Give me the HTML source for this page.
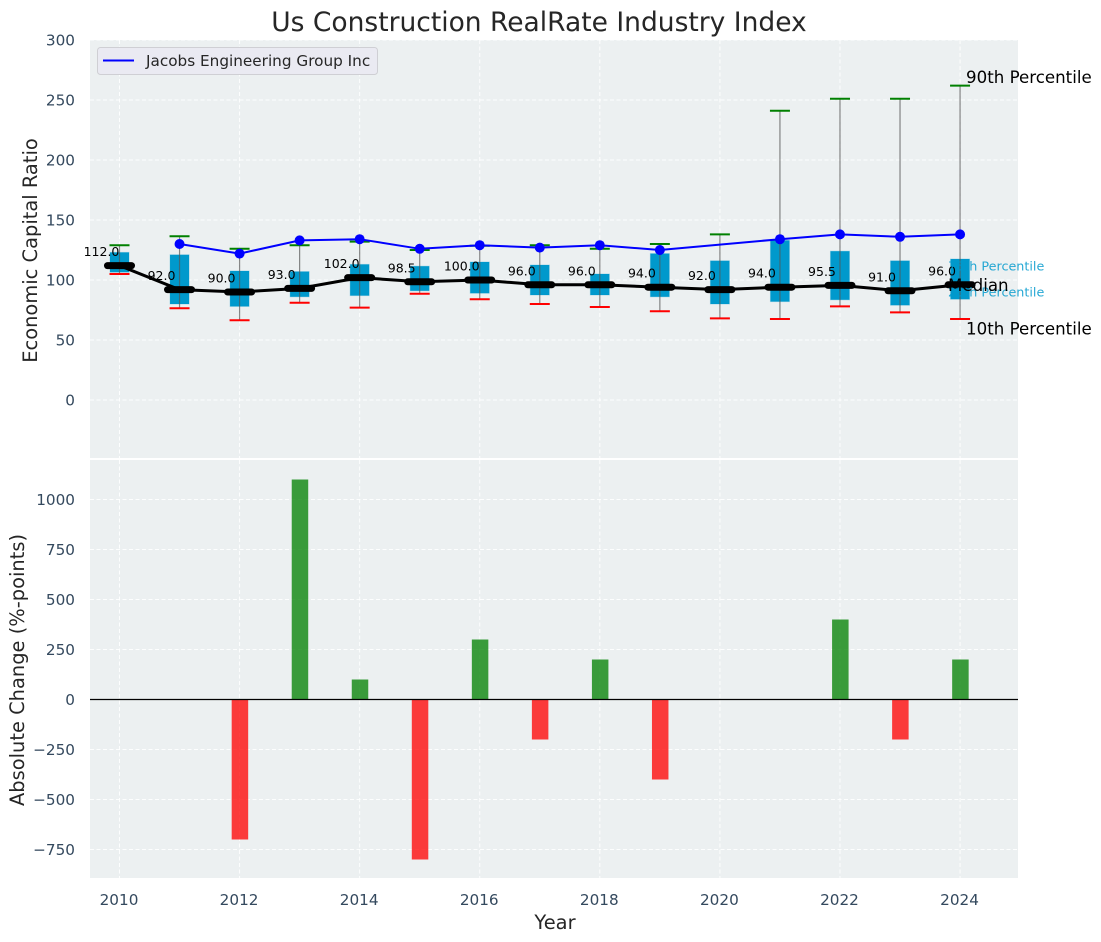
<!DOCTYPE html>
<html>
<head>
<meta charset="utf-8">
<title>Us Construction RealRate Industry Index</title>
<style>
html,body{margin:0;padding:0;background:#fff;}
svg{display:block;font-family:"DejaVu Sans","Liberation Sans",sans-serif;}
</style>
</head>
<body>
<svg id="chart" xmlns="http://www.w3.org/2000/svg" width="1101" height="942" viewBox="0 0 1101 942">
  <rect x="90" y="40" width="928" height="418" fill="#ecf0f1"/>
  <rect x="90" y="460" width="928" height="418" fill="#ecf0f1"/>
  <g id="grid"></g>
  <g id="ticks"></g>
  <g id="marks"></g>
  <g id="bars"></g>
  <text x="539" y="31" font-size="26.5px" fill="#262626" text-anchor="middle">Us Construction RealRate Industry Index</text>
  <text transform="translate(37,250.5) rotate(-90)" font-size="19.45px" fill="#262626" text-anchor="middle">Economic Capital Ratio</text>
  <text transform="translate(24,670) rotate(-90)" font-size="19.45px" fill="#262626" text-anchor="middle">Absolute Change (%-points)</text>
  <text x="555" y="929" font-size="19.45px" fill="#262626" text-anchor="middle">Year</text>
  <g>
    <rect x="97.5" y="47.5" width="280" height="27" rx="3" fill="#eaeaf2" stroke="#cfcfd4"/>
    <line x1="103" x2="134" y1="60.5" y2="60.5" stroke="#0000ff" stroke-width="2"/>
    <text x="146" y="66" font-size="15.25px" fill="#262626">Jacobs Engineering Group Inc</text>
  </g>
  <g id="annotations"></g>
</svg>
<script>
const years = [2010,2011,2012,2013,2014,2015,2016,2017,2018,2019,2020,2021,2022,2023,2024];
const median = [112,92,90,93,102,98.5,100,96,96,94,92,94,95.5,91,96];
const q1 = [106.5,80,78,86,87,91,89,87.5,87.5,86,80,82,83.5,79,84];
const q3 = [123,121,107.5,107,113,111.5,115,112.5,105,122,116,133,124,116,117.5];
const p10 = [105,76.5,66.5,81,77,88.5,84,80,77.5,74,68,67.5,78,73,67.5];
const p90 = [129,136.5,126,129,132,125,128.5,129,126,130,138,241,251,251,262];
const jacobs = [null,130,122,133,134,126,129,127,129,125,null,134,138,136,138];
const change = [0,0,-700,1100,100,-800,300,-200,200,-400,0,0,400,-200,200];
const topTicks = [0,50,100,150,200,250,300];
const bottomTicks = [-750,-500,-250,0,250,500,750,1000];
const xTicks = [2010,2012,2014,2016,2018,2020,2022,2024];

const NS = 'http://www.w3.org/2000/svg';
const xScale = v => 119.5 + (v - 2010) * 60.04;
const yTop = v => 400 - v * 1.2;
const yBottom = v => 699.5 - v * 0.2;
function make(tag, parent, attrs, text) {
  const el = document.createElementNS(NS, tag);
  for (const k in attrs) el.setAttribute(k, attrs[k]);
  if (text !== undefined) el.textContent = text;
  parent.appendChild(el);
  return el;
}
const grid = document.getElementById('grid');
const ticks = document.getElementById('ticks');
const marks = document.getElementById('marks');
const bars = document.getElementById('bars');
const annotations = document.getElementById('annotations');
const gridStyle = {stroke:'#ffffff','stroke-width':1,'stroke-dasharray':'4 2.5','stroke-opacity':0.9};
const tickColor = '#34495e';
const fmtTick = v => v < 0 ? '\u2212' + Math.abs(v) : String(v);

topTicks.forEach(t => {
  const g = make('line', grid, Object.assign({x1:90,x2:1018,y1:yTop(t),y2:yTop(t)}, gridStyle));
  
  
  const l = make('text', ticks, {x:75,y:yTop(t)+5.5,'font-size':'15.25px',fill:tickColor,'text-anchor':'end'}, fmtTick(t));
  
  
});
bottomTicks.forEach(t => {
  const g = make('line', grid, Object.assign({x1:90,x2:1018,y1:yBottom(t),y2:yBottom(t)}, gridStyle));
  
  
  const l = make('text', ticks, {x:75,y:yBottom(t)+5.5,'font-size':'15.25px',fill:tickColor,'text-anchor':'end'}, fmtTick(t));
  
  
});
xTicks.forEach(t => {
  const a = make('line', grid, Object.assign({x1:xScale(t),x2:xScale(t),y1:40,y2:458}, gridStyle));
  
  
  const b = make('line', grid, Object.assign({x1:xScale(t),x2:xScale(t),y1:460,y2:878}, gridStyle));
  
  
  const l = make('text', ticks, {x:xScale(t)-0.5,y:905,'font-size':'15.25px',fill:tickColor,'text-anchor':'middle'}, String(t));
  
  
});

years.forEach((yr, i) => {
  const x = xScale(yr);
  const box = make('rect', marks, {x:x-9.5,y:yTop(q3[i]),width:19,height:yTop(q1[i])-yTop(q3[i]),fill:'#0099cc',stroke:'#0099cc','stroke-opacity':0.25,'stroke-width':1});
  
  
  const w = make('line', marks, {x1:x,x2:x,y1:yTop(p90[i]),y2:yTop(p10[i]),stroke:'#555555','stroke-opacity':0.7,'stroke-width':1.2});
  
  
  const capHi = make('line', marks, {x1:x-10,x2:x+10,y1:yTop(p90[i]),y2:yTop(p90[i]),stroke:'#008000','stroke-width':2});
  
  
  const capLo = make('line', marks, {x1:x-10,x2:x+10,y1:yTop(p10[i]),y2:yTop(p10[i]),stroke:'#ff0000','stroke-width':2});
  
  
});

const medianPath = make('polyline', marks, {points:years.map((yr,i)=>xScale(yr)+','+yTop(median[i])).join(' '),fill:'none',stroke:'#000000','stroke-width':3});



years.forEach((yr, i) => {
  const x = xScale(yr);
  const m = make('line', marks, {x1:x-12,x2:x+12,y1:yTop(median[i]),y2:yTop(median[i]),stroke:'#000000','stroke-width':7,'stroke-linecap':'round'});
  
  
  const l = make('text', marks, {x:x-18,y:yTop(median[i])-9.5,'font-size':'12.5px',fill:'#000000','text-anchor':'middle'}, median[i].toFixed(1));
  
  
});

const jacobsYears = years.filter((yr,i)=>jacobs[i]!==null);
const jacobsVals = jacobs.filter(v=>v!==null);
const jacobsPath = make('polyline', marks, {points:jacobsYears.map((yr,i)=>xScale(yr)+','+yTop(jacobsVals[i])).join(' '),fill:'none',stroke:'#0000ff','stroke-width':2});


jacobsYears.forEach((yr,i) => {
  const c = make('circle', marks, {cx:xScale(yr),cy:yTop(jacobsVals[i]),r:5,fill:'#0000ff'});
  
  
});

years.forEach((yr, i) => {
  if (change[i] === 0) return;
  const top = Math.min(yBottom(change[i]), yBottom(0));
  const h = Math.abs(yBottom(change[i]) - yBottom(0));
  const r = make('rect', bars, {x:xScale(yr)-7.9,y:top,width:16.5,height:h,fill:change[i]>0?'#008000':'#ff0000','fill-opacity':0.76});
  
  
});
const zero = make('line', bars, {x1:90,x2:1018,y1:yBottom(0),y2:yBottom(0),stroke:'#000000','stroke-width':1.2});



const last = years.length - 1;
const lx = xScale(years[last]);
const a90 = make('text', annotations, {x:lx+6,y:yTop(p90[last])-2.5,'font-size':'16.65px',fill:'#000000'}, '90th Percentile');


const a10 = make('text', annotations, {x:lx+6,y:yTop(p10[last])+15.5,'font-size':'16.65px',fill:'#000000'}, '10th Percentile');


const a75 = make('text', annotations, {x:lx-12,y:yTop(q3[last])+11.5,'font-size':'12.75px',fill:'#0099cc','fill-opacity':0.85}, '75th Percentile');


const a25 = make('text', annotations, {x:lx-12,y:yTop(q1[last])-2.5,'font-size':'12.75px',fill:'#0099cc','fill-opacity':0.85}, '25th Percentile');


const aMed = make('text', annotations, {x:lx-12,y:yTop(median[last])+6,'font-size':'16.65px',fill:'#000000'}, 'Median');


</script>
</body>
</html>
